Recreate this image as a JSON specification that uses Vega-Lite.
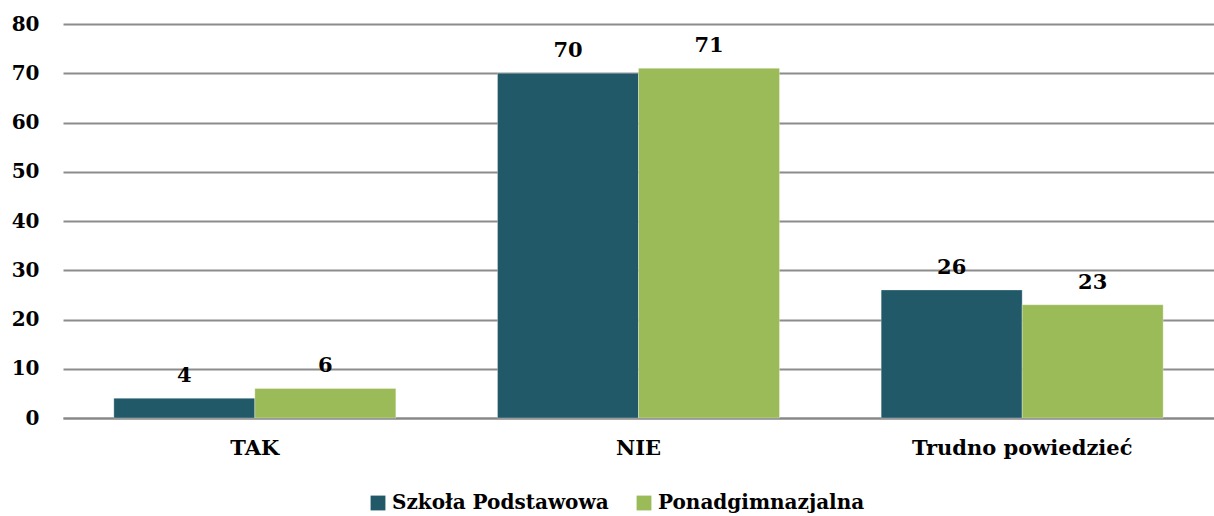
{
  "$schema": "https://vega.github.io/schema/vega-lite/v6.json",
  "width": 1151,
  "height": 394,
  "autosize": {"type": "none"},
  "padding": {"left": 63, "top": 24, "right": 0, "bottom": 98},
  "background": "white",
  "data": {"values": [
    {"kat": "TAK", "szkola": "Szkoła Podstawowa", "v": 4},
    {"kat": "TAK", "szkola": "Ponadgimnazjalna", "v": 6},
    {"kat": "NIE", "szkola": "Szkoła Podstawowa", "v": 70},
    {"kat": "NIE", "szkola": "Ponadgimnazjalna", "v": 71},
    {"kat": "Trudno powiedzieć", "szkola": "Szkoła Podstawowa", "v": 26},
    {"kat": "Trudno powiedzieć", "szkola": "Ponadgimnazjalna", "v": 23}
  ]},
  "config": {
    "view": {"stroke": null},
    "font": "DejaVu Serif"
  },
  "encoding": {
    "x": {"field": "kat", "type": "nominal", "sort": ["TAK", "NIE", "Trudno powiedzieć"],
      "scale": {"paddingInner": 0.265, "paddingOuter": 0.1325},
      "axis": {"title": null, "labelAngle": 0, "labelFont": "DejaVu Serif", "labelFontWeight": "bold", "labelFontSize": 21, "labelColor": "black", "labelPadding": 19, "ticks": false, "domainColor": "#888888", "domainWidth": 2, "labelLimit": 0}},
    "xOffset": {"field": "szkola", "type": "nominal", "sort": ["Szkoła Podstawowa", "Ponadgimnazjalna"]},
    "y": {"field": "v", "type": "quantitative", "scale": {"domain": [0, 80]},
      "axis": {"title": null, "values": [0,10,20,30,40,50,60,70,80], "labelOverlap": false, "labelFont": "DejaVu Serif", "labelFontWeight": "bold", "labelFontSize": 20, "labelColor": "black", "labelPadding": 24, "ticks": false, "domain": false, "gridColor": "#8c8c8c", "gridWidth": 2}}
  },
  "layer": [
    {
      "mark": {"type": "bar", "stroke": "#ffffff", "strokeOpacity": 0.3, "strokeWidth": 1},
      "encoding": {
        "color": {"field": "szkola", "type": "nominal", "sort": ["Szkoła Podstawowa", "Ponadgimnazjalna"],
          "scale": {"domain": ["Szkoła Podstawowa", "Ponadgimnazjalna"], "range": ["#215968", "#9BBB59"]},
          "legend": {"title": null, "orient": "none", "direction": "horizontal", "legendX": 305, "legendY": 469,
            "symbolType": "square", "symbolSize": 220, "symbolStrokeWidth": 0, "labelFont": "DejaVu Serif", "labelFontWeight": "bold", "labelFontSize": 20, "labelColor": "black", "columnPadding": 25, "labelOffset": 4, "labelLimit": 0}}
      }
    },
    {
      "mark": {"type": "text", "dy": -22, "font": "DejaVu Serif", "fontWeight": "bold", "fontSize": 21, "color": "black"},
      "encoding": {"text": {"field": "v", "type": "quantitative"}}
    }
  ]
}
